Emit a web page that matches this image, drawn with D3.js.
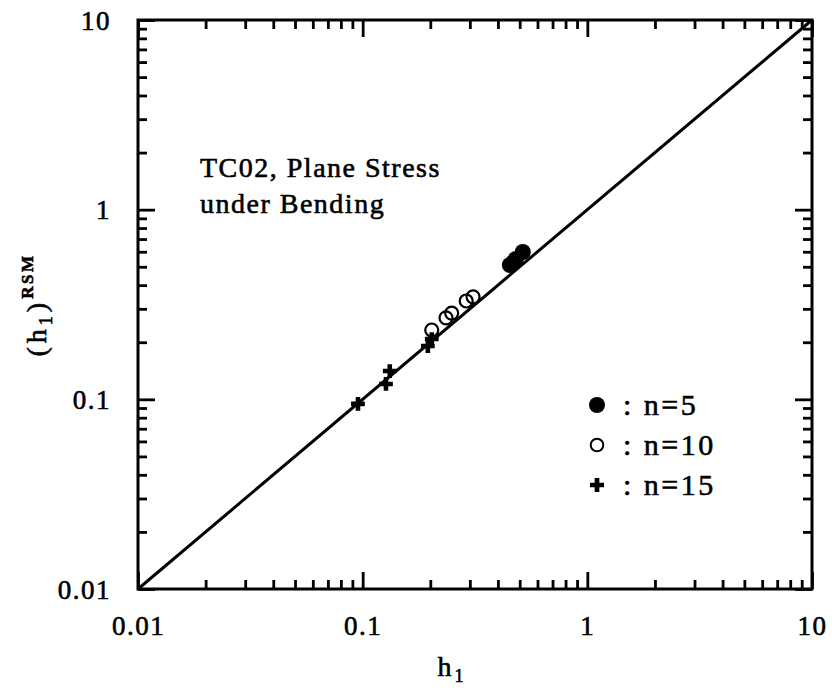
<!DOCTYPE html>
<html>
<head>
<meta charset="utf-8">
<script src="https://cdn.jsdelivr.net/npm/d3@7"></script>
<style>
  html, body { margin: 0; padding: 0; background: #fff; }
  svg { display: block; }
  text { font-family: "Liberation Serif", "Times New Roman", serif; fill: #000; stroke: #000; stroke-width: 0.6px; }
</style>
</head>
<body>
<svg id="chart" width="832" height="690"></svg>
<script>
// h1 exact vs. response-surface estimate, three sample sizes
const n5X  = [0.452, 0.470, 0.481, 0.516];
const n5Y  = [0.511, 0.530, 0.550, 0.598];
const n10X = [0.203, 0.235, 0.249, 0.289, 0.310];
const n10Y = [0.232, 0.269, 0.285, 0.330, 0.347];
const n15X = [0.0953, 0.127, 0.132, 0.195, 0.203];
const n15Y = [0.0946, 0.1205, 0.141, 0.191, 0.208];

const majorTicks = [0.01, 0.1, 1, 10];
const majorLabels = ["0.01", "0.1", "1", "10"];
const minorTicks = [];
[0.01, 0.1, 1].forEach(d => { for (let k = 2; k <= 9; k++) minorTicks.push(+(d * k).toPrecision(3)); });

const diagonal = [0.01, 10];

const legendItems = ["n=5", "n=10", "n=15"];

const svg = d3.select("#chart");
const margin = { left: 138, top: 20, right: 20, bottom: 101 };
const W = 832 - margin.left - margin.right;
const H = 690 - margin.top - margin.bottom;

const x = d3.scaleLog().domain([0.01, 10]).range([0, W]);
const y = d3.scaleLog().domain([0.01, 10]).range([H, 0]);

const g = svg.append("g").attr("transform", `translate(${margin.left},${margin.top})`);

const MAJ = 17, MIN = 9;
function styleAxis(sel) {
  sel.select(".domain").remove();
  sel.selectAll(".tick line").attr("stroke", "#000").attr("stroke-width", 2.8);
}

// bottom
g.append("g").attr("transform", `translate(0,${H})`)
  .call(d3.axisBottom(x).tickValues(majorTicks).tickSize(-MAJ).tickPadding(24)
    .tickFormat((d, i) => majorLabels[i]))
  .call(styleAxis)
  .call(s => s.selectAll(".tick text").attr("font-size", 27).attr("letter-spacing", 1.5)
    .attr("dy", "0.71em").attr("y", 27));
g.append("g").attr("transform", `translate(0,${H})`)
  .call(d3.axisBottom(x).tickValues(minorTicks).tickSize(-MIN).tickFormat(""))
  .call(styleAxis);
// top
g.append("g")
  .call(d3.axisTop(x).tickValues(majorTicks).tickSize(-MAJ).tickFormat(""))
  .call(styleAxis);
g.append("g")
  .call(d3.axisTop(x).tickValues(minorTicks).tickSize(-MIN).tickFormat(""))
  .call(styleAxis);
// left
g.append("g")
  .call(d3.axisLeft(y).tickValues(majorTicks).tickSize(-MAJ).tickPadding(27)
    .tickFormat((d, i) => majorLabels[i]))
  .call(styleAxis)
  .call(s => s.selectAll(".tick text").attr("font-size", 27).attr("letter-spacing", 1.5)
    .attr("dy", "0.34em"));
g.append("g")
  .call(d3.axisLeft(y).tickValues(minorTicks).tickSize(-MIN).tickFormat(""))
  .call(styleAxis);
// right
g.append("g").attr("transform", `translate(${W},0)`)
  .call(d3.axisRight(y).tickValues(majorTicks).tickSize(-MAJ).tickFormat(""))
  .call(styleAxis);
g.append("g").attr("transform", `translate(${W},0)`)
  .call(d3.axisRight(y).tickValues(minorTicks).tickSize(-MIN).tickFormat(""))
  .call(styleAxis);

// frame
g.append("rect").attr("x", 0).attr("y", 0).attr("width", W).attr("height", H)
  .attr("fill", "none").attr("stroke", "#000").attr("stroke-width", 3);

// 1:1 line
g.append("path")
  .datum(diagonal)
  .attr("d", d3.line().x(d => x(d)).y(d => y(d)))
  .attr("stroke", "#000").attr("stroke-width", 3).attr("fill", "none");

// markers
const cross = d3.symbol().type(d3.symbolCross).size(105);

g.selectAll(".n15").data(n15X).join("path")
  .attr("class", "n15")
  .attr("transform", (d, i) => `translate(${x(d)},${y(n15Y[i])})`)
  .attr("d", cross).attr("fill", "#000");

g.selectAll(".n10").data(n10X).join("circle")
  .attr("class", "n10")
  .attr("cx", d => x(d)).attr("cy", (d, i) => y(n10Y[i])).attr("r", 6.5)
  .attr("fill", "none").attr("stroke", "#000").attr("stroke-width", 2.2);

g.selectAll(".n5").data(n5X).join("circle")
  .attr("class", "n5")
  .attr("cx", d => x(d)).attr("cy", (d, i) => y(n5Y[i])).attr("r", 8)
  .attr("fill", "#000");

// annotation
const note = g.append("text").attr("font-size", 28).attr("letter-spacing", 1.5);
note.append("tspan").attr("x", 62).attr("y", 157).text("TC02, Plane Stress");
note.append("tspan").attr("x", 62).attr("y", 193).text("under Bending");

// legend
const leg = g.append("g").attr("transform", "translate(459,385)");
legendItems.forEach((lab, i) => {
  const row = leg.append("g").attr("transform", `translate(0,${i * 40})`);
  if (i === 0) row.append("circle").attr("r", 8).attr("fill", "#000");
  if (i === 1) row.append("circle").attr("r", 6.3).attr("fill", "none").attr("stroke", "#000").attr("stroke-width", 2);
  if (i === 2) row.append("path").attr("d", d3.symbol().type(d3.symbolCross).size(110)).attr("fill", "#000");
  row.append("text").attr("x", 26).attr("y", 10).attr("font-size", 30).attr("letter-spacing", 2.5)
    .text(": " + lab);
});

// axis titles
const xt = svg.append("text").attr("x", 452).attr("y", 676).attr("text-anchor", "middle")
  .attr("font-size", 28).attr("letter-spacing", 3);
xt.append("tspan").text("h");
xt.append("tspan").attr("font-size", 18).attr("dy", 6).text("1");

const yt = svg.append("text").attr("transform", "translate(46,305) rotate(-90)")
  .attr("text-anchor", "middle").attr("font-size", 28).attr("letter-spacing", 4);
yt.append("tspan").text("(h");
yt.append("tspan").attr("font-size", 18).attr("dy", 6).text("1");
yt.append("tspan").attr("dy", -6).text(")");
yt.append("tspan").attr("font-size", 17).attr("font-weight", "bold").attr("dy", -13)
  .attr("letter-spacing", 2.5).text("RSM");
</script>
</body>
</html>
